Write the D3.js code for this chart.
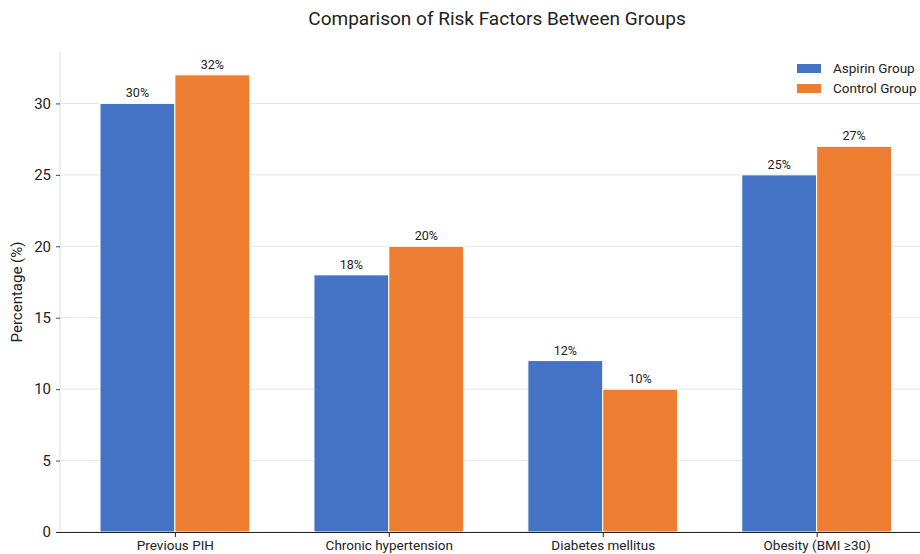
<!DOCTYPE html>
<html>
<head>
<meta charset="utf-8">
<script src="https://cdn.jsdelivr.net/npm/d3@7"></script>
<style>
  body { margin: 0; background: #fff; }
  svg { display: block; font-family: Roboto, "Open Sans", sans-serif; }
</style>
</head>
<body>
<svg id="chart" width="920" height="554"></svg>
<script>
const categories = ["Previous PIH", "Chronic hypertension", "Diabetes mellitus", "Obesity (BMI \u226530)"];
const seriesNames = ["Aspirin Group", "Control Group"];
const aspirin = [30, 18, 12, 25];
const control = [32, 20, 10, 27];
const yTicks = [0, 5, 10, 15, 20, 25, 30];
const colors = ["#4472C4", "#ED7D31"];

const svg = d3.select("#chart");
const plotLeft = 60, plotRight = 920, plotTop = 52, plotBottom = 532;

// index-based x scale so bars sit at category centres with a fixed offset
const x = d3.scaleLinear().domain([-0.537, 3.483]).range([plotLeft, plotRight]);
const y = d3.scaleLinear().domain([0, 33.6]).range([plotBottom, plotTop]);
const barW = 0.35;

// gridlines
svg.append("g").selectAll("line").data(yTicks).join("line")
  .attr("x1", plotLeft).attr("x2", plotRight)
  .attr("y1", d => y(d)).attr("y2", d => y(d))
  .attr("stroke", "#e6e6e6").attr("stroke-width", 1);

// left spine (light)
svg.append("line").attr("x1", plotLeft).attr("x2", plotLeft)
  .attr("y1", plotTop).attr("y2", plotBottom)
  .attr("stroke", "#dddddd").attr("stroke-width", 1);

const series = [aspirin, control];
series.forEach((vals, s) => {
  const g = svg.append("g");
  g.selectAll("rect").data(vals).join("rect")
    .attr("x", (d, i) => x(i + (s === 0 ? -barW : 0)))
    .attr("width", x(barW) - x(0))
    .attr("y", d => y(d))
    .attr("height", d => y(0) - y(d))
    .attr("fill", colors[s])
    .attr("stroke", "#ffffff").attr("stroke-width", 1);
  g.selectAll("text").data(vals).join("text")
    .attr("x", (d, i) => x(i + (s === 0 ? -barW / 2 : barW / 2)))
    .attr("y", d => y(d) - 6)
    .attr("text-anchor", "middle")
    .attr("font-size", 12.5).attr("fill", "#222")
    .text(d => d + "%");
});

// y axis
const yAxis = d3.axisLeft(y).tickValues(yTicks).tickSize(4).tickPadding(5);
const ya = svg.append("g").attr("transform", `translate(${plotLeft},0)`).call(yAxis);
ya.select(".domain").remove();
ya.selectAll(".tick line").attr("stroke", "#444");
ya.selectAll(".tick text").attr("font-size", 15).attr("fill", "#222")
  .attr("font-family", "Roboto, sans-serif");

// x axis
const xAxis = d3.axisBottom(x).tickValues(d3.range(categories.length))
  .tickFormat(i => categories[i]).tickSize(5).tickPadding(3);
const xa = svg.append("g").attr("transform", `translate(0,${plotBottom})`).call(xAxis);
xa.select(".domain").attr("d", `M${plotLeft - 4},0.5H${plotRight}`).attr("stroke", "#222");
xa.selectAll(".tick line").attr("stroke", "#222");
xa.selectAll(".tick text").attr("font-size", 13.5).attr("fill", "#222")
  .attr("font-family", "Roboto, sans-serif");

// title
svg.append("text").attr("x", 497).attr("y", 25)
  .attr("text-anchor", "middle").attr("font-size", 19).attr("fill", "#222")
  .text("Comparison of Risk Factors Between Groups");

// y label
svg.append("text")
  .attr("transform", `translate(22,${(plotTop + plotBottom) / 2}) rotate(-90)`)
  .attr("text-anchor", "middle").attr("font-size", 15).attr("fill", "#222")
  .text("Percentage (%)");

// legend
const lg = svg.append("g").attr("transform", "translate(797,62)");
seriesNames.forEach((name, i) => {
  lg.append("rect").attr("x", 0).attr("y", i * 20 + 2).attr("width", 24).attr("height", 9)
    .attr("fill", colors[i]);
  lg.append("text").attr("x", 36).attr("y", i * 20 + 11)
    .attr("font-size", 13.5).attr("fill", "#222").text(name);
});
</script>
</body>
</html>
